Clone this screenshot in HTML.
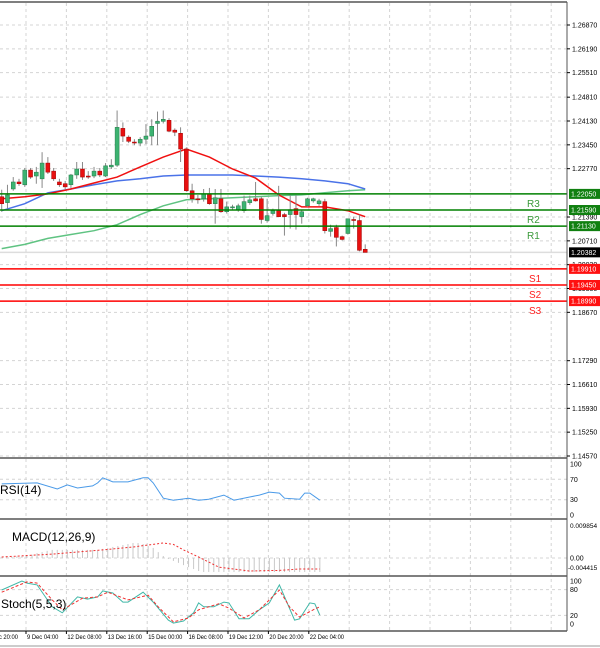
<!DOCTYPE html>
<html><head><meta charset="utf-8"><style>
body{margin:0;background:#fff;}
svg{display:block;font-family:"Liberation Sans",sans-serif;}
</style></head><body>
<svg id="c" width="600" height="648" viewBox="0 0 600 648"></svg>
<script>
// ===== data =====
const candleOpen=[1.2197,1.2180,1.2219,1.2239,1.2231,1.2273,1.2256,1.2248,1.2293,1.2270,1.2239,1.2234,1.2231,1.2259,1.2276,1.2256,1.2256,1.2270,1.2256,1.2282,1.2287,1.2392,1.2367,1.2353,1.2350,1.2361,1.2370,1.2406,1.2412,1.2415,1.2387,1.2378,1.2333,1.2214,1.2191,1.2191,1.2205,1.2177,1.2191,1.2154,1.2166,1.2160,1.2157,1.2180,1.2191,1.2191,1.2129,1.2149,1.2157,1.2146,1.2146,1.2163,1.2140,1.2171,1.2185,1.2177,1.2183,1.2098,1.2109,1.2083,1.2092,1.2132,1.2129,1.2047];
const candleHigh=[1.2217,1.2231,1.2253,1.2248,1.2279,1.2279,1.2282,1.2324,1.2310,1.2279,1.2248,1.2242,1.2262,1.2296,1.2296,1.2270,1.2282,1.2279,1.2293,1.2304,1.2443,1.2409,1.2372,1.2361,1.2367,1.2404,1.2418,1.2440,1.2443,1.2421,1.2392,1.2395,1.2338,1.2234,1.2202,1.2219,1.2222,1.2219,1.2219,1.2183,1.2174,1.2177,1.2200,1.2200,1.2239,1.2197,1.2191,1.2163,1.2228,1.2151,1.2202,1.2202,1.2160,1.2194,1.2194,1.2191,1.2191,1.2117,1.2117,1.2086,1.2134,1.2140,1.2146,1.2061];
const candleLow=[1.2154,1.2163,1.2214,1.2228,1.2225,1.2248,1.2234,1.2222,1.2262,1.2242,1.2225,1.2219,1.2222,1.2248,1.2245,1.2248,1.2250,1.2253,1.2253,1.2276,1.2282,1.2353,1.2350,1.2344,1.2341,1.2347,1.2344,1.2344,1.2406,1.2381,1.2370,1.2296,1.2211,1.2180,1.2177,1.2183,1.2174,1.2120,1.2151,1.2149,1.2160,1.2154,1.2151,1.2174,1.2183,1.2120,1.2123,1.2143,1.2140,1.2086,1.2106,1.2103,1.2120,1.2168,1.2180,1.2171,1.2092,1.2083,1.2055,1.2072,1.2089,1.2106,1.2041,1.2041];
const candleClose=[1.2177,1.2202,1.2239,1.2234,1.2273,1.2253,1.2267,1.2293,1.2267,1.2248,1.2231,1.2225,1.2259,1.2276,1.2253,1.2253,1.2270,1.2259,1.2285,1.2287,1.2395,1.2370,1.2355,1.2352,1.2361,1.2370,1.2398,1.2412,1.2418,1.2384,1.2381,1.2333,1.2214,1.2191,1.2188,1.2205,1.2177,1.2194,1.2154,1.2168,1.2168,1.2171,1.2183,1.2188,1.2185,1.2132,1.2143,1.2157,1.2140,1.2140,1.2160,1.2146,1.2154,1.2191,1.2191,1.2185,1.2100,1.2106,1.2081,1.2075,1.2134,1.2129,1.2044,1.2038];
const maKnots=[0,4,8,12,16,20,24,28,32,36,40,44,48,52,56,60,63];
const maFast=[1.2191,1.2197,1.2205,1.2219,1.2236,1.2253,1.2282,1.2310,1.2333,1.2310,1.2276,1.2250,1.2202,1.2168,1.2168,1.2157,1.2140];
const maMid=[1.2157,1.2177,1.2208,1.2219,1.2231,1.2242,1.2248,1.2256,1.2259,1.2259,1.2259,1.2256,1.2253,1.2248,1.2242,1.2234,1.2219];
const maSlow=[1.2049,1.2061,1.2078,1.2089,1.2100,1.2117,1.2146,1.2171,1.2188,1.2191,1.2194,1.2197,1.2200,1.2202,1.2208,1.2214,1.2217];
const resistLevels=[1.2205,1.2159,1.2113];
const resistNames=["R3","R2","R1"];
const supportLevels=[1.1991,1.1945,1.1899];
const supportNames=["S1","S2","S3"];
const lastPrice=1.20382;
const priceTicks=[1.2687,1.2619,1.2551,1.2481,1.2413,1.2345,1.2277,1.2139,1.2071,1.2003,1.1935,1.1867,1.1729,1.1661,1.1593,1.1525,1.1457];
const timeLabels=["8 Dec 20:00","9 Dec 04:00","12 Dec 08:00","13 Dec 16:00","15 Dec 00:00","16 Dec 08:00","19 Dec 12:00","20 Dec 20:00","22 Dec 04:00"];
const rsiIdx=[0,7,11,13,15,18,19,20,22,25,28,29,30,32,34,37,39,41,44,46,49,51,53,55,56,59,60,61,63];
const rsiVal=[61,63,51,59,53,57,63,73,65,65,73,73,63,33,29,33,29,31,39,29,35,39,45,43,33,31,43,43,29];
const macdHist=[0.0002,0.0003,0.0004,0.0005,0.0006,0.0007,0.0010,0.0015,0.0018,0.0022,0.0025,0.0025,0.0025,0.0025,0.0025,0.0025,0.0025,0.0025,0.0025,0.0025,0.0028,0.0031,0.0034,0.0037,0.0040,0.0043,0.0046,0.0046,0.0043,0.0037,0.0031,0.0018,0.0006,-0.0003,-0.0009,-0.0015,-0.0022,-0.0028,-0.0034,-0.0040,-0.0043,-0.0043,-0.0043,-0.0043,-0.0043,-0.0043,-0.0043,-0.0043,-0.0043,-0.0043,-0.0043,-0.0043,-0.0043,-0.0043,-0.0043,-0.0043,-0.0043,-0.0043,-0.0043,-0.0043,-0.0043,-0.0043,-0.0043,-0.0043];
const macdSigIdx=[0,10,20,26,32,34,36,39,43,49,55,59,63];
const macdSig=[0.0003,0.0012,0.0025,0.0034,0.0046,0.0042,0.0025,0.0003,-0.0028,-0.0040,-0.0038,-0.0034,-0.0034];
const stochIdx=[0,4,5,7,10,12,15,17,19,20,22,24,25,28,30,33,34,36,38,39,40,42,44,45,47,49,51,53,55,58,59,61,62,63];
const stochMain=[79,100,95,91,40,26,63,58,63,77,72,51,51,74,51,9,2,7,26,49,40,40,51,49,12,12,33,49,91,9,12,49,47,21];
const stochSigIdx=[0,5,7,10,12,16,19,21,25,29,31,34,37,39,43,45,48,51,55,57,59,62,63];
const stochSig=[74,98,95,56,33,60,63,74,56,67,40,5,14,33,47,37,14,33,79,40,16,35,40];

// ===== scales =====
const NS='http://www.w3.org/2000/svg';
const svg=document.getElementById('c');
function el(tag,attrs,parent){const e=document.createElementNS(NS,tag);for(const k in attrs)e.setAttribute(k,attrs[k]);(parent||svg).appendChild(e);return e;}
const plotR=567;
const yP=p=>25+(1.2687-p)*3504;
const xC=i=>1.7+i*5.77;
const xI=i=>1.7+i*5.05;
const yRSI=v=>515-v*0.51;
const yMACD=v=>558-v*3250;
const ySto=v=>624-v*0.43;

el('rect',{x:0,y:0,width:600,height:648,fill:'#fff'});
const grid=el('g',{stroke:'#d4d4d4','stroke-dasharray':'3,3','stroke-width':1});


for(let k=0;k<14;k++){const x=26+k*40.4;el('line',{x1:x,y1:3,x2:x,y2:631},grid);}
priceTicks.forEach(p=>{el('line',{x1:0,y1:yP(p),x2:plotR,y2:yP(p)},grid);});
[70,30].forEach(v=>el('line',{x1:0,y1:yRSI(v),x2:plotR,y2:yRSI(v)},grid));
el('line',{x1:0,y1:yMACD(0),x2:plotR,y2:yMACD(0)},grid);
[80,20].forEach(v=>el('line',{x1:0,y1:ySto(v),x2:plotR,y2:ySto(v)},grid));
el('line',{x1:0,y1:yP(lastPrice),x2:plotR,y2:yP(lastPrice),stroke:'#ddd','stroke-width':1.5});

function poly(idx,vals,xf,yf,attrs,name){const pts=idx.map((i,k)=>xf(i).toFixed(1)+','+yf(vals[k]).toFixed(1)).join(' ');const e=el('polyline',Object.assign({points:pts,fill:'none'},attrs));return e;}
poly(maKnots,maSlow,xC,yP,{stroke:'#5fc382','stroke-width':1.5},'ma-slow-line');
poly(maKnots,maMid,xC,yP,{stroke:'#4a72e8','stroke-width':1.5},'ma-mid-line');
poly(maKnots,maFast,xC,yP,{stroke:'#f01010','stroke-width':1.5},'ma-fast-line');

const cg=el('g',{});


candleOpen.forEach((o,i)=>{
  const c=candleClose[i],x=xC(i);
  el('line',{x1:x,y1:yP(candleHigh[i]),x2:x,y2:yP(candleLow[i]),stroke:'#888','stroke-width':1},cg);
  const t=yP(Math.max(o,c)),b=yP(Math.min(o,c));
  const r=el('rect',{x:x-2,y:t,width:4,height:Math.max(1,b-t),fill:c>=o?'#3cb371':'#e81010',stroke:c>=o?'#2a7a4c':'#a00000','stroke-width':0.5},cg);
  
  
});

resistLevels.forEach((p,k)=>{
  const l=el('line',{x1:0,y1:yP(p),x2:plotR,y2:yP(p),stroke:'#008000','stroke-width':1.5});
  
  
  const t=el('text',{x:527,y:yP(p)+13,fill:'#3a9a3a','font-size':10});t.textContent=resistNames[k];
  
  
});
supportLevels.forEach((p,k)=>{
  const l=el('line',{x1:0,y1:yP(p),x2:plotR,y2:yP(p),stroke:'#ff0000','stroke-width':1.5});
  
  
  const t=el('text',{x:529,y:yP(p)+13,fill:'#ff2020','font-size':10});t.textContent=supportNames[k];
  
  
});

poly(rsiIdx,rsiVal,xI,yRSI,{stroke:'#4a9ae8','stroke-width':1},'rsi-line');
const mg=el('g',{});


macdHist.forEach((v,i)=>{const y0=yMACD(0),y1=yMACD(v);el('line',{x1:xI(i),y1:y0,x2:xI(i),y2:y1,stroke:'#c8c8c8','stroke-width':1},mg);});
poly(macdSigIdx,macdSig,xI,yMACD,{stroke:'#f03030','stroke-width':1,'stroke-dasharray':'2,2'},'macd-signal-line');
poly(stochIdx,stochMain,xI,ySto,{stroke:'#40b8a8','stroke-width':1},'stoch-main-line');
poly(stochSigIdx,stochSig,xI,ySto,{stroke:'#f03030','stroke-width':1,'stroke-dasharray':'3,2'},'stoch-signal-line');

[2,458,519,576,631].forEach(y=>el('line',{x1:0,y1:y,x2:plotR,y2:y,stroke:'#555','stroke-width':1.5}));
el('line',{x1:plotR,y1:2,x2:plotR,y2:631,stroke:'#555','stroke-width':1});
el('line',{x1:0,y1:646,x2:600,y2:646,stroke:'#999','stroke-width':1});

const ax=el('g',{'font-size':7,fill:'#000'});


priceTicks.forEach(p=>{const y=yP(p);el('line',{x1:plotR,y1:y,x2:plotR+3,y2:y,stroke:'#000'},ax);const t=el('text',{x:572,y:y+2.5},ax);t.textContent=p.toFixed(5);});
function tag(p,bg,name){const y=yP(p);const r=el('rect',{x:569,y:y-5,width:31,height:10,fill:bg});const t=el('text',{x:571,y:y+2.5,'font-size':7,fill:'#fff'});t.textContent=p.toFixed(5);}
resistLevels.forEach(p=>tag(p,'#108010','resistance-price-tag'));
supportLevels.forEach(p=>tag(p,'#ff1010','support-price-tag'));
tag(lastPrice,'#000','last-price-tag');

function lab(x,y,s,fs,name){const t=el('text',{x:x,y:y,'font-size':fs,fill:'#000'});t.textContent=s;return t;}
[[100,'100'],[70,'70'],[30,'30'],[0,'0']].forEach(a=>lab(570,yRSI(a[0])+2.5,a[1],7,'rsi-tick'));
lab(570,528,'0.009854',6.5,'macd-tick');lab(570,yMACD(0)+2.5,'0.00',7,'macd-tick');lab(568,570,'-0.004415',6.5,'macd-tick');
[[100,'100'],[80,'80'],[20,'20'],[0,'0']].forEach(a=>lab(570,ySto(a[0])+2.5,a[1],7,'stoch-tick'));
lab(0,494,'RSI(14)',12,'rsi-title');
lab(12,541,'MACD(12,26,9)',12,'macd-title');
lab(1,608,'Stoch(5,5,3)',12,'stoch-title');

timeLabels.forEach((s,k)=>{const x=26+(k-1)*40.4;el('line',{x1:x,y1:631,x2:x,y2:634,stroke:'#000'});const t=lab(x+1,639,s,6.5,'time-label');t.setAttribute('textLength',(s.length*2.85).toFixed(1));t.setAttribute('lengthAdjust','spacingAndGlyphs');});
</script>
</body></html>
